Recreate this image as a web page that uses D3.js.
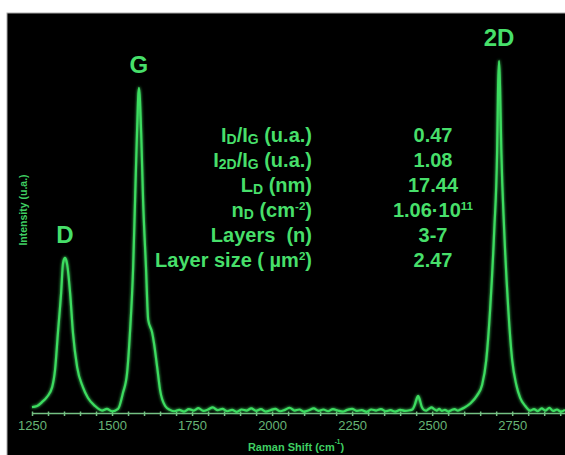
<!DOCTYPE html>
<html>
<head>
<meta charset="utf-8">
<script src="https://cdn.jsdelivr.net/npm/d3@7"></script>
<style>
body { margin: 0; background: #fff; }
svg { display: block; font-family: "Liberation Sans", Arial, sans-serif; }
</style>
</head>
<body>
<svg id="chart" width="565" height="455"></svg>
<script>
// raman spectrum (shift cm-1 / intensity a.u.)
var shift = [1250,1266,1281,1297,1313,1322,1331,1341,1347,1353,1359,1369,1378,1391,1409,1425,1447,1469,1484,1500,1519,1534,1547,1556,1566,1572,1578,1584,1591,1597,1606,1613,1625,1631,1641,1650,1666,1681,
  1695,1710,1725,1740,1755,1770,1785,1800,1815,1830,1845,1860,1875,1890,1905,1920,1935,1950,1965,1980,1995,2010,2025,2040,2055,2070,2085,2100,2115,2130,2145,2160,2175,2190,2205,2220,2235,2250,2265,2280,2295,2310,2325,2340,2355,2370,2385,2400,2415,2430,
  2438,2446,2452,2456,2461,2467,2474,2482,2490,2498,2506,2514,2522,2530,2540,2550,2560,2570,2580,2588,
  2600,2619,2641,2656,2669,2681,2694,2703,2706,2709,2712,2716,2725,2738,2750,2763,2775,2791,2806,2818,2830,2842,2854,2866,2878,2890,2902,2915];
var intensity = [17,20,31,46,74,123,229,343,429,443,429,343,229,131,74,43,20,7,12,5,12,57,114,229,417,609,800,929,800,609,417,266,231,200,131,66,20,9,
  5,9,4,11,7,14,6,10,16,8,12,5,9,3,10,7,13,6,11,4,8,12,5,9,15,7,10,4,8,13,6,10,5,11,7,4,9,12,6,8,3,10,7,11,5,8,4,9,6,8,
  10,24,42,49,39,19,9,7,12,16,11,7,12,6,9,4,8,11,7,10,
  15,27,51,80,151,294,523,751,930,1006,930,751,523,294,151,80,43,20,7,11,5,13,7,15,6,10,4,9];

var xTicks = [1250,1500,1750,2000,2250,2500,2750];
var peakNames = ["D","G","2D"];
var peakShift = [1353,1584,2709];
var peakHeight = [443,929,1006];

// table: label pieces [text, kind] and values
var paramLabels = [
  [["I",""],["D","sub"],["/I",""],["G","sub"],[" (u.a.)",""]],
  [["I",""],["2D","sub"],["/I",""],["G","sub"],[" (u.a.)",""]],
  [["L",""],["D","sub"],[" (nm)",""]],
  [["n",""],["D","sub"],[" (cm",""],["-2","sup"],[")",""]],
  [["Layers  (n)",""]],
  [["Layer size ( \u00b5m",""],["2","sup"],[")",""]]
];
var paramValues = [
  [["0.47",""]],
  [["1.08",""]],
  [["17.44",""]],
  [["1.06\u00b710",""],["11","sup"]],
  [["3-7",""]],
  [["2.47",""]]
];

var green = "#47df6a";
var svg = d3.select("#chart");

svg.append("rect").attr("x", 7).attr("y", 13).attr("width", 560).attr("height", 444)
  .attr("fill", "#000").attr("stroke", "#aaa").attr("stroke-width", 1);

var defs = svg.append("defs");
var glow = defs.append("filter").attr("id", "glow").attr("x", "-20%").attr("y", "-20%").attr("width", "140%").attr("height", "140%");
glow.append("feGaussianBlur").attr("in", "SourceGraphic").attr("stdDeviation", 1.4).attr("result", "b");
var fm = glow.append("feMerge");
fm.append("feMergeNode").attr("in", "b");
fm.append("feMergeNode").attr("in", "SourceGraphic");

var x = d3.scaleLinear().domain([1250, 2915]).range([32, 565]);
var y = d3.scaleLinear().domain([0, 1000]).range([413, 63]);

// axis
var minor = d3.range(1250, 2916, 50);
var ax = svg.append("g")
  .attr("transform", "translate(0," + y(0) + ")")
  .call(d3.axisBottom(x).tickValues(minor).tickSize(3).tickSizeOuter(0)
    .tickFormat(function(d) { return xTicks.indexOf(d) >= 0 ? d : ""; }));
ax.select(".domain").attr("stroke", "#74c083").attr("stroke-width", 1.5);
ax.selectAll(".tick line").attr("stroke", "#74c083").attr("stroke-width", 1.5).attr("y1", -1.5);
ax.selectAll(".tick text").attr("fill", "#67b476").attr("font-size", 13).attr("y", 8)
  .attr("font-family", "'Liberation Sans', Arial, sans-serif");

// spectrum
var line = d3.line().x(function(d) { return x(d[0]); }).y(function(d) { return y(d[1]); }).curve(d3.curveMonotoneX);
svg.append("path").datum(d3.zip(shift, intensity))
  .attr("d", line).attr("fill", "none").attr("stroke", "#3ddc60").attr("stroke-width", 2.2)
  .attr("stroke-linejoin", "round").attr("filter", "url(#glow)");

// peak names
svg.selectAll(".peak").data(peakNames).enter().append("text")
  .attr("class", "peak")
  .attr("x", function(d, i) { return x(peakShift[i]); })
  .attr("y", function(d, i) { return y(peakHeight[i]) - 15; })
  .attr("text-anchor", "middle").attr("font-size", 24).attr("font-weight", "bold")
  .attr("fill", green).text(function(d) { return d; });

// rich text helper, carries the baseline shift over to the next piece
function rich(sel, parts, size) {
  var back = 0;
  sel.attr("font-size", size);
  parts.forEach(function(p) {
    var t = sel.append("tspan").text(p[0]);
    var dy = back;
    back = 0;
    if (p[1] == "sub") { t.attr("font-size", size * 0.7); dy += 2; back = -2; }
    if (p[1] == "sup") { t.attr("font-size", size * 0.58); dy -= 7; back = 7; }
    if (dy) t.attr("dy", dy);
  });
}

var rowY = function(i) { return 142 + i * 25; };
paramLabels.forEach(function(parts, i) {
  var t = svg.append("text").attr("x", 312).attr("y", rowY(i)).attr("text-anchor", "end")
    .attr("font-weight", "bold").attr("fill", green).style("white-space", "pre");
  rich(t, parts, 20);
});
paramValues.forEach(function(parts, i) {
  var t = svg.append("text").attr("x", 433).attr("y", rowY(i)).attr("text-anchor", "middle")
    .attr("font-weight", "bold").attr("fill", green);
  rich(t, parts, 20);
});

// axis titles
var xt = svg.append("text").attr("x", 296).attr("y", 451).attr("text-anchor", "middle")
  .attr("font-weight", "bold").attr("fill", "#3fcf62");
rich(xt, [["Raman Shift (cm",""],["-1","sup"],[")",""]], 11);

svg.append("text").attr("transform", "translate(27,210) rotate(-90)")
  .attr("text-anchor", "middle").attr("font-size", 10.5).attr("font-weight", "bold")
  .attr("fill", "#3fcf62").text("Intensity (u.a.)");
</script>
</body>
</html>
